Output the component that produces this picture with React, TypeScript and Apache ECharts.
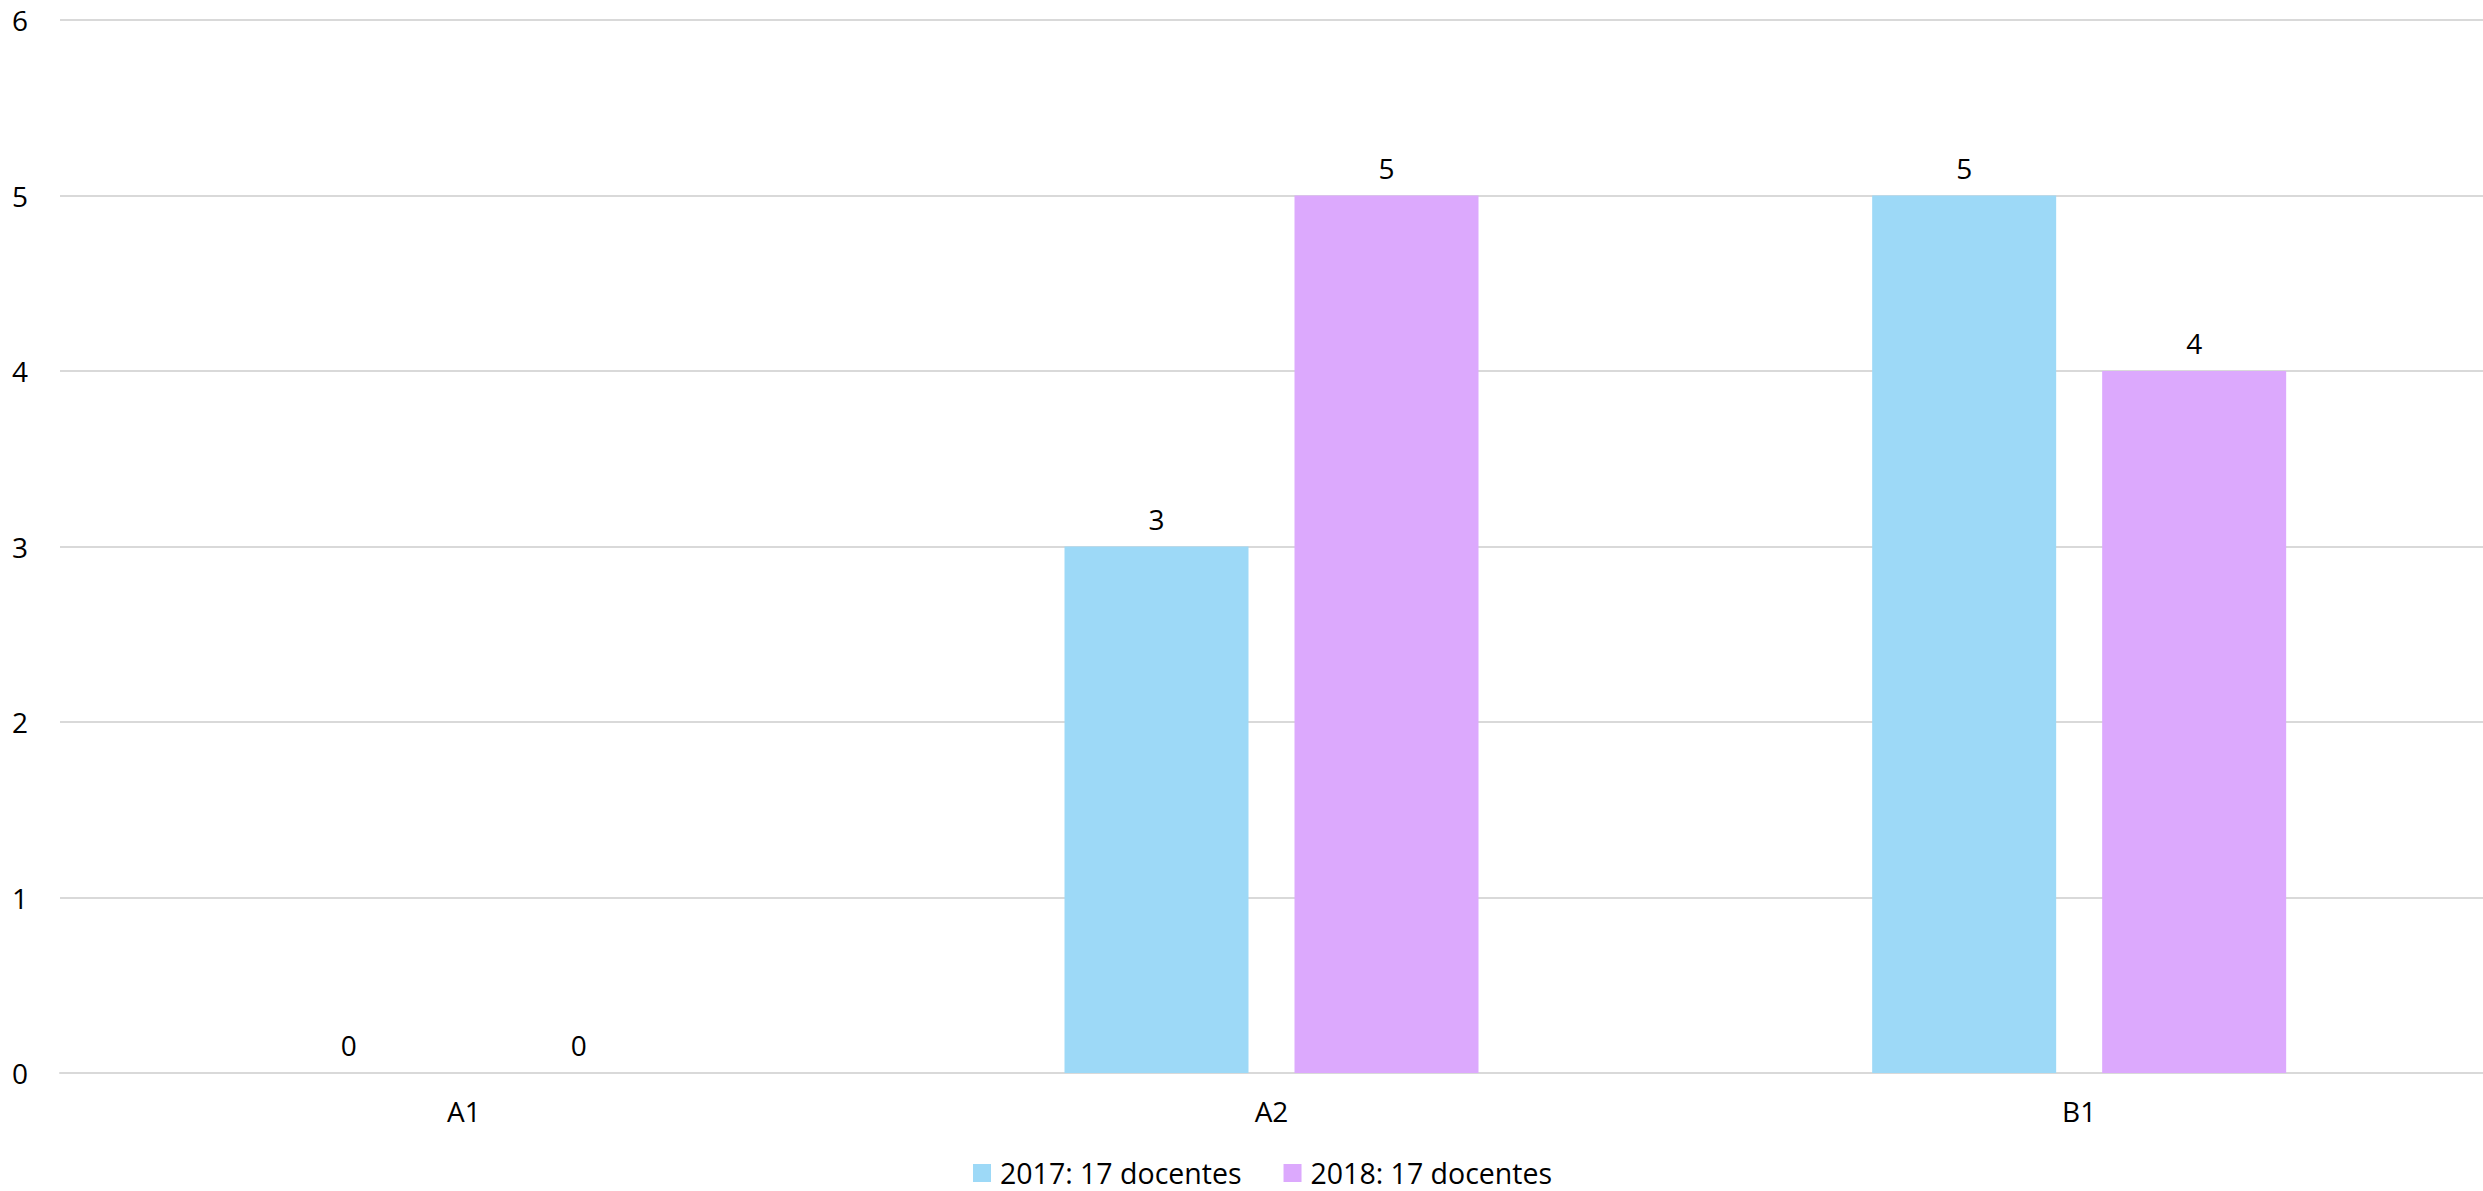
import React, { useEffect, useRef } from "react";
import * as echarts from "echarts";

const categories = ["A1", "A2", "B1"];
const seriesNames = ["2017: 17 docentes", "2018: 17 docentes"];
const values2017 = [0, 3, 5];
const values2018 = [0, 5, 4];
const colors = ["#9dd9f7", "#dca9fd"];

const FONT = "'Open Sans', 'Noto Sans', sans-serif";

export default function App() {
  const ref = useRef<HTMLDivElement>(null);
  useEffect(() => {
    if (!ref.current) return;
    const chart = echarts.init(ref.current, undefined, { renderer: "svg" });
    const label = {
      show: true,
      position: "top" as const,
      distance: 14,
      color: "#000",
      fontSize: 28,
      fontFamily: FONT,
    };
    chart.setOption({
      animation: false,
      textStyle: { fontFamily: FONT },
      grid: { left: 60, right: 0, top: 20, bottom: 118, containLabel: false },
      legend: {
        data: seriesNames,
        top: 1158,
        left: 973,
        padding: 0,
        itemWidth: 18,
        itemHeight: 18,
        itemGap: 42,
        icon: "rect",
        textStyle: {
          color: "#000",
          fontSize: 28.5,
          lineHeight: 30,
          fontFamily: FONT,
          padding: [0, 0, 0, 4],
        },
      },
      xAxis: {
        type: "category",
        data: categories,
        axisTick: { show: false },
        axisLine: { lineStyle: { color: "#d9d9d9", width: 2 } },
        axisLabel: { color: "#000", fontSize: 28, fontFamily: FONT, margin: 24 },
      },
      yAxis: {
        type: "value",
        min: 0,
        max: 6,
        interval: 1,
        axisLine: { show: false },
        axisTick: { show: false },
        axisLabel: { color: "#000", fontSize: 28, fontFamily: FONT, margin: 32 },
        splitLine: { lineStyle: { color: "#d9d9d9", width: 2 } },
      },
      series: [
        {
          name: seriesNames[0],
          type: "bar",
          data: values2017,
          barWidth: 184,
          barGap: "25%",
          itemStyle: { color: colors[0] },
          label,
        },
        {
          name: seriesNames[1],
          type: "bar",
          data: values2018,
          barWidth: 184,
          barGap: "25%",
          itemStyle: { color: colors[1] },
          label,
        },
      ],
    });
    return () => chart.dispose();
  }, []);
  return (
    <div
      ref={ref}
      style={{ position: "fixed", left: 0, top: 0, width: 2483, height: 1191, background: "#fff" }}
    />
  );
}
